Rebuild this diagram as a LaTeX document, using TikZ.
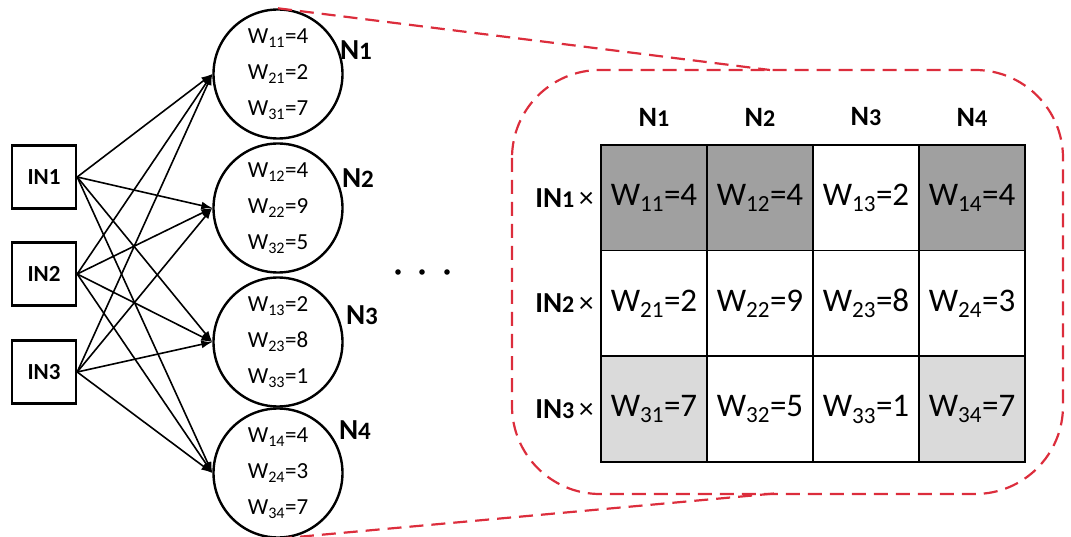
\documentclass[tikz,border=0pt]{standalone}
\usepackage{fontspec}
\setmainfont{Carlito}
\usetikzlibrary{arrows.meta,calc}
\definecolor{dred}{RGB}{220,45,60}
\definecolor{dgray}{RGB}{160,160,160}
\definecolor{lgray}{RGB}{218,218,218}
\newcommand{\ws}[2]{W\textsubscript{#1}=#2}
\begin{document}
\begin{tikzpicture}[x=1pt,y=-1pt,
  inbox/.style={draw, line width=2.4pt, minimum width=64pt, minimum height=63pt, inner sep=0pt, font=\fontsize{23}{26}\selectfont\bfseries},
  neuron/.style={draw, circle, line width=2.4pt, minimum size=129pt, inner sep=0pt, align=center, font=\fontsize{23}{36}\selectfont},
  nlab/.style={font=\fontsize{29}{32}\selectfont\bfseries},
  hlab/.style={font=\fontsize{28}{32}\selectfont\bfseries},
  cell/.style={draw, line width=1.8pt, minimum width=106pt, minimum height=106pt, inner sep=0pt, font=\fontsize{33}{36}\selectfont},
  rlab/.style={anchor=east, font=\fontsize{29}{32}\selectfont},
  conn/.style={-{Latex[length=11pt,width=8pt]}, line width=1.6pt},
  zline/.style={draw=dred, line width=2.2pt, dash pattern=on 14pt off 8pt}]
\useasboundingbox (0,0) rectangle (1071,537);

% inputs
\node[inbox] (in1) at (44,177) {IN1};
\node[inbox] (in2) at (44,274) {IN2};
\node[inbox] (in3) at (44,372) {IN3};

% neurons
\node[neuron] (n1) at (278,74) {\ws{11}{4}\\\ws{21}{2}\\\ws{31}{7}};
\node[neuron] (n2) at (278,208) {\ws{12}{4}\\\ws{22}{9}\\\ws{32}{5}};
\node[neuron] (n3) at (278,342) {\ws{13}{2}\\\ws{23}{8}\\\ws{33}{1}};
\node[neuron] (n4) at (278,473) {\ws{14}{4}\\\ws{24}{3}\\\ws{34}{7}};

\node[nlab] (l1) at (356,50) {N{\fontsize{25}{28}\selectfont 1}};
\node[nlab] (l2) at (358,178) {N{\fontsize{25}{28}\selectfont 2}};
\node[nlab] (l3) at (362,315) {N{\fontsize{25}{28}\selectfont 3}};
\node[nlab] (l4) at (355,430) {N{\fontsize{25}{28}\selectfont 4}};

\foreach \i in {1,2,3}
  \foreach \j in {1,2,3,4}
    \draw[conn] (in\i.east) -- (n\j.west);

% dots
\foreach \x [count=\k] in {398,422,447}
  \fill (\x,272) circle (2.8pt) coordinate (dot\k);

% zoom frame
\draw[zline, rounded corners=88pt] (512,70) rectangle (1063,494);
\coordinate (zt) at (770,70);
\coordinate (zb) at (780,493);
\draw[zline] (n1.north) -- (zt);
\draw[zline] (n4.south) -- (zb);

% table
\foreach \r/\c/\f/\t in {
  1/1/dgray/\ws{11}{4}, 1/2/dgray/\ws{12}{4}, 1/3/white/\ws{13}{2}, 1/4/dgray/\ws{14}{4},
  2/1/white/\ws{21}{2}, 2/2/white/\ws{22}{9}, 2/3/white/\ws{23}{8}, 2/4/white/\ws{24}{3},
  3/1/lgray/\ws{31}{7}, 3/2/white/\ws{32}{5}, 3/3/white/\ws{33}{1}, 3/4/lgray/\ws{34}{7}}
  \node[cell, fill=\f] (c\r\c) at ({601+106*(\c-0.5)},{145+105.7*(\r-0.5)}) {\t};

\foreach \c in {1,2,3,4}
  \node[hlab] (h\c) at ($(c1\c.north)+(0,-27)$) {N{\fontsize{24}{28}\selectfont\c}};
\foreach \r in {1,2,3}
  \node[rlab] (r\r) at ($(c\r1.west)+(-3,0)$) {\textbf{IN{\fontsize{24}{28}\selectfont\r}}\,×};
\end{tikzpicture}
\end{document}
